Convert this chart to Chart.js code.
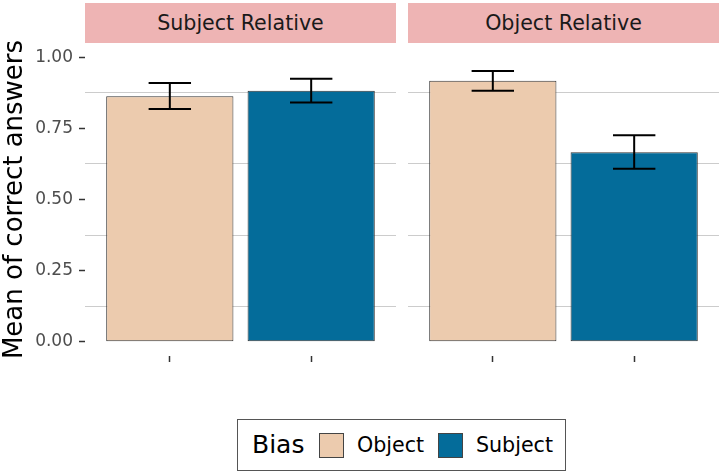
<!DOCTYPE html>
<html><head><meta charset="utf-8">
<script src="https://cdn.jsdelivr.net/npm/chart.js@4.4.0/dist/chart.umd.min.js"></script>
<style>
html,body{margin:0;padding:0;background:#fff;}
#wrap{position:relative;width:722px;height:474px;font-family:"DejaVu Sans",sans-serif;overflow:hidden;background:#fff}
canvas{position:absolute;top:0}
.strip{position:absolute;top:3px;height:40px;background:#EEB4B4;color:#1a1a1a;font-size:20.6px;display:flex;align-items:center;justify-content:center}
#legend{position:absolute;left:237px;top:419px;width:327px;height:50px;border:1px solid #555;background:#fff}
#legend span{position:absolute;top:0;height:50px;line-height:50px;color:#000;white-space:nowrap}
#legend .key{position:absolute;top:13px;width:23px;height:23px;border:1px solid #444}
</style></head>
<body>
<div id="wrap">
  <div class="strip" id="s1" style="left:85px;width:311px"></div>
  <div class="strip" id="s2" style="left:408px;width:311px"></div>
  <canvas id="c1" width="396" height="474" style="left:0"></canvas>
  <canvas id="c2" width="311" height="474" style="left:408px"></canvas>
  <div id="legend">
    <span id="ltitle" style="left:14px;font-size:25px"></span>
    <div class="key" id="k1" style="left:81px"></div>
    <span id="l1" style="left:119px;font-size:20.6px"></span>
    <div class="key" id="k2" style="left:200px"></div>
    <span id="l2" style="left:238px;font-size:20.6px"></span>
  </div>
</div>
<script>
// ---- data ----
const panels = ['Subject Relative', 'Object Relative'];
const biasLevels = ['Object', 'Subject'];
const legendTitle = 'Bias';
const yTitle = 'Mean of correct answers';
const subjRelMean = [0.863, 0.882];
const subjRelLo   = [0.818, 0.841];
const subjRelHi   = [0.909, 0.924];
const objRelMean  = [0.917, 0.666];
const objRelLo    = [0.882, 0.608];
const objRelHi    = [0.952, 0.726];
const yTicks = [0, 0.25, 0.5, 0.75, 1];
const yGridLines = [0.125, 0.375, 0.625, 0.875];
const barColors = ['#ECCBAE', '#046C9A'];

// ---- text ----
document.getElementById('s1').textContent = panels[0];
document.getElementById('s2').textContent = panels[1];
document.getElementById('ltitle').textContent = legendTitle;
document.getElementById('l1').textContent = biasLevels[0];
document.getElementById('l2').textContent = biasLevels[1];
document.getElementById('k1').style.background = barColors[0];
document.getElementById('k2').style.background = barColors[1];

const FONT = '"DejaVu Sans", sans-serif';
const xs = biasLevels.map((_, i) => i + 1);

function errorPlugin(lo, hi) {
  return {
    id: 'errorBars',
    afterDatasetsDraw(chart) {
      const {ctx, scales: {x, y}} = chart;
      ctx.save();
      ctx.strokeStyle = '#000';
      ctx.lineWidth = 2;
      lo.forEach((l, i) => {
        const cx = x.getPixelForValue(xs[i]);
        const hw = x.getPixelForValue(xs[i] + 0.15) - cx;
        const yl = y.getPixelForValue(l), yh = y.getPixelForValue(hi[i]);
        ctx.beginPath();
        ctx.moveTo(cx - hw, yh); ctx.lineTo(cx + hw, yh);
        ctx.moveTo(cx, yh); ctx.lineTo(cx, yl);
        ctx.moveTo(cx - hw, yl); ctx.lineTo(cx + hw, yl);
        ctx.stroke();
      });
      ctx.restore();
    }
  };
}

function makePanel(id, means, lo, hi, showAxis) {
  return new Chart(document.getElementById(id), {
    type: 'bar',
    data: {
      datasets: [{
        data: means.map((v, i) => ({x: xs[i], y: v})),
        backgroundColor: barColors,
        borderColor: '#333333',
        borderWidth: 1,
        borderSkipped: false,
        categoryPercentage: 1,
        barPercentage: 0.9
      }]
    },
    options: {
      responsive: false,
      animation: false,
      layout: {padding: {top: 43, bottom: 112, left: 0, right: 0}},
      plugins: {legend: {display: false}, tooltip: {enabled: false}},
      scales: {
        x: {
          type: 'linear', min: 0.4, max: 2.6, offset: false,
          afterBuildTicks: s => { s.ticks = xs.map(v => ({value: v})); },
          afterFit: s => { s.height = 6; },
          ticks: {display: false},
          border: {display: false},
          grid: {offset: false, drawOnChartArea: false, drawTicks: true, tickLength: 6, tickColor: '#333333', tickWidth: 1.5}
        },
        y: {
          min: -0.05, max: 1.05,
          afterBuildTicks: s => { s.ticks = [...yTicks, ...yGridLines].sort((a, b) => a - b).map(v => ({value: v})); },
          afterFit: s => { s.width = showAxis ? 85 : 0; },
          border: {display: false},
          ticks: {
            display: showAxis, autoSkip: false, padding: 6,
            color: '#4D4D4D', font: {family: FONT, size: 17},
            callback: v => yTicks.includes(v) ? v.toFixed(2) : ''
          },
          grid: {
            drawTicks: showAxis, tickLength: 6, tickWidth: 1.5, lineWidth: 1,
            color: c => (c.tick && yGridLines.includes(c.tick.value)) ? '#CCCCCC' : 'rgba(0,0,0,0)',
            tickColor: c => (c.tick && yTicks.includes(c.tick.value)) ? '#333333' : 'rgba(0,0,0,0)'
          },
          title: {display: showAxis, text: yTitle, color: '#000', font: {family: FONT, size: 26}, padding: 0}
        }
      }
    },
    plugins: [errorPlugin(lo, hi)]
  });
}

makePanel('c1', subjRelMean, subjRelLo, subjRelHi, true);
makePanel('c2', objRelMean, objRelLo, objRelHi, false);
</script>
</body></html>
